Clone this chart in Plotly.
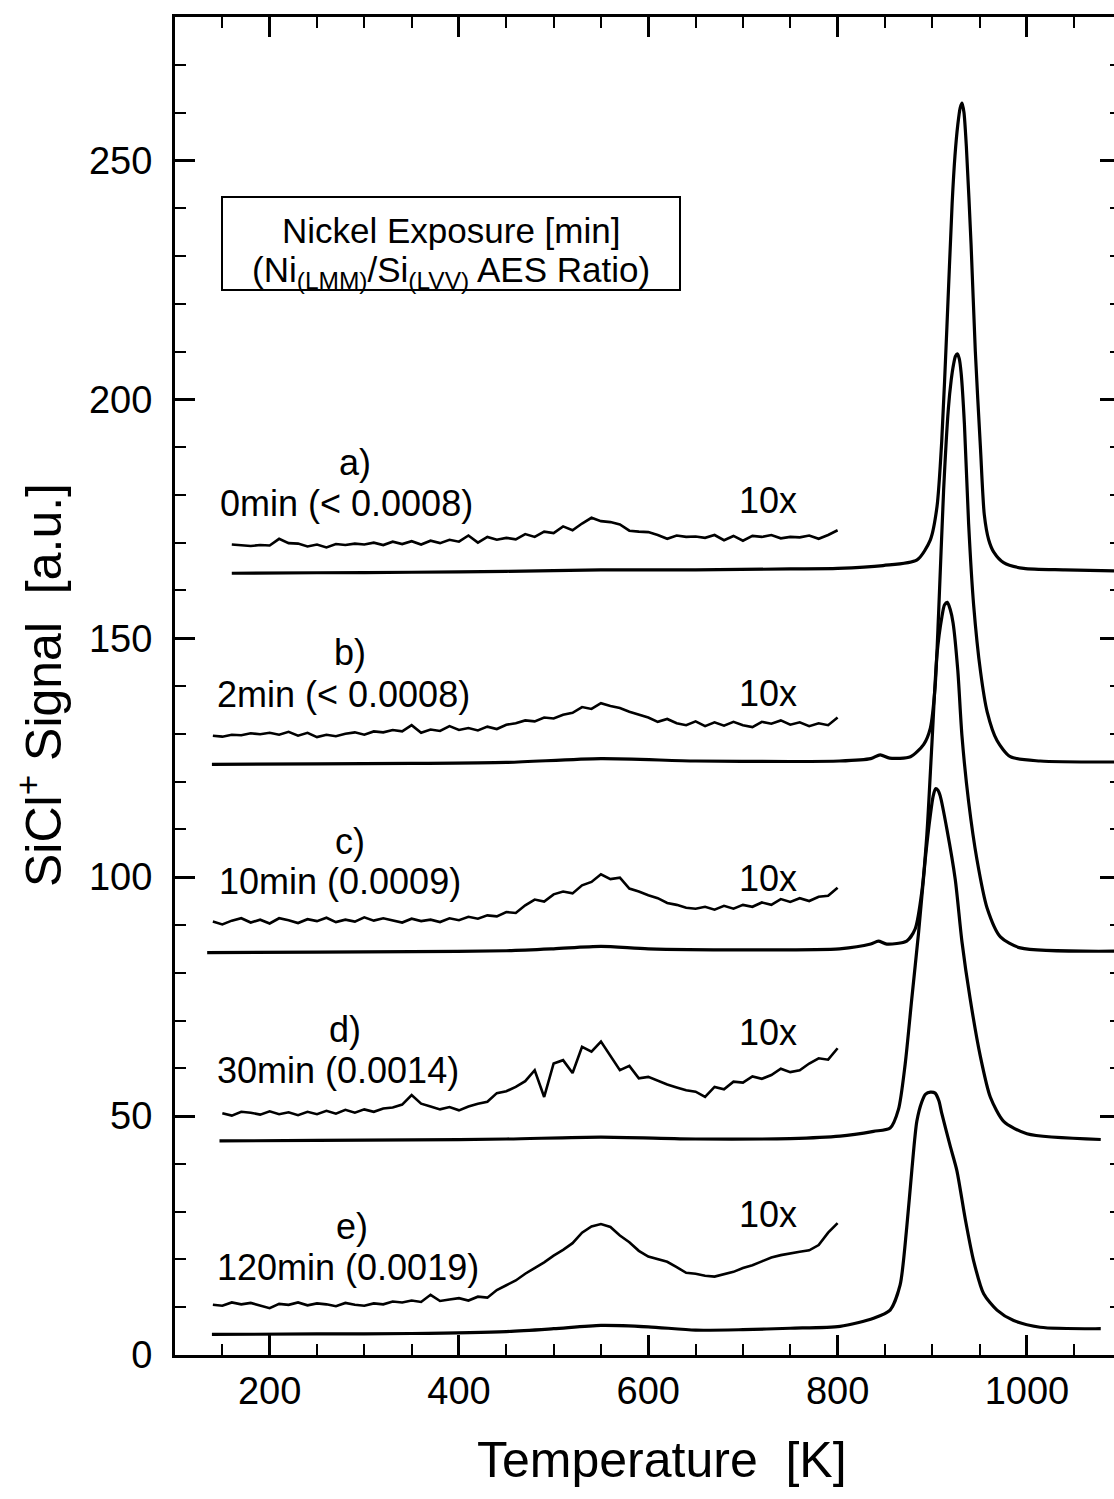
import plotly.graph_objects as go

# ---------------- data ----------------
# main (1x) traces: temperature [K] and SiCl+ signal
mainA_T = [160, 250, 350, 450, 550, 650, 750, 800, 848, 884, 898, 905, 910, 915.5, 921, 924, 927, 929.5, 931.5, 933.5, 936, 941, 945.5, 951, 955, 959.6, 965, 975.4, 996.6, 1040, 1092]
mainA_S = [163.6, 163.7, 163.8, 164.0, 164.3, 164.3, 164.5, 164.6, 165.2, 166.4, 170.6, 177.5, 191.2, 215.2, 241, 251, 257.5, 261, 262, 260, 253, 232.4, 210, 189.5, 175.8, 170.6, 168, 165.8, 164.6, 164.3, 164.1]

mainB_T = [139, 250, 350, 450, 550, 650, 750, 802, 835, 845, 855, 877, 891, 898, 903, 906.7, 912, 917, 920, 922.5, 924.5, 926.5, 928.5, 930.5, 934, 938.4, 943.7, 951, 958, 968.4, 982.5, 1014, 1092]
mainB_S = [123.6, 123.7, 123.8, 124.0, 124.8, 124.3, 124.2, 124.3, 124.8, 125.6, 124.9, 125.2, 127.8, 131.2, 139.8, 155.2, 181, 198, 204, 207.3, 209, 209.5, 208.5, 205.5, 194.7, 174, 157, 143, 134.6, 128.6, 125.2, 124.3, 124.1]

mainC_T = [134, 250, 350, 450, 500, 550, 600, 700, 802, 835, 843, 852, 873, 882, 889, 894.3, 899.6, 905, 910.2, 913, 916, 919, 922, 927, 931.4, 938.4, 947.2, 958, 972, 993, 1092]
mainC_S = [84.2, 84.3, 84.4, 84.6, 85.0, 85.5, 85.0, 84.8, 85.0, 86.0, 86.6, 86.0, 86.6, 89.2, 97, 108.9, 127.8, 146.6, 154.5, 157, 157.5, 156, 153.2, 143.2, 129.5, 115.8, 103.7, 93.5, 87.5, 85.2, 84.5]

mainD_T = [147, 250, 350, 450, 550, 650, 750, 802.6, 838, 855.5, 864.3, 871.4, 878.4, 885.5, 892.6, 898, 901, 903.5, 906, 908.4, 915.5, 924.3, 931.3, 940, 950.7, 961.3, 975.4, 1000, 1078]
mainD_S = [44.8, 44.9, 45.0, 45.2, 45.6, 45.2, 45.3, 45.8, 46.8, 47.5, 51.4, 60.9, 74.6, 88.3, 103.7, 113, 117, 118.5, 118.2, 117, 110, 99.5, 86.6, 74.6, 62.6, 54, 48.9, 46.3, 45.1]

mainE_T = [139, 250, 350, 450, 500, 550, 600, 650, 700, 750, 802.6, 838, 855.5, 866, 873, 878.4, 883.7, 889, 893, 898, 903, 907, 910, 919, 926, 935, 943.7, 954.3, 968.4, 986, 1014, 1078]
mainE_S = [4.3, 4.4, 4.5, 4.9, 5.5, 6.2, 5.9, 5.2, 5.3, 5.6, 6.0, 7.7, 9.4, 14.6, 26.6, 38.6, 48.9, 53.0, 54.6, 55.0, 54.8, 53.2, 50.6, 43.7, 38.6, 28.3, 19.7, 12.8, 9.4, 7.2, 5.8, 5.5]

# 10x magnified low-temperature traces, sampled every 10 K (140 ... 800 K)
T10 = [140, 150, 160, 170, 180, 190, 200, 210, 220, 230, 240, 250, 260, 270, 280, 290,
       300, 310, 320, 330, 340, 350, 360, 370, 380, 390, 400, 410, 420, 430, 440, 450,
       460, 470, 480, 490, 500, 510, 520, 530, 540, 550, 560, 570, 580, 590, 600, 610,
       620, 630, 640, 650, 660, 670, 680, 690, 700, 710, 720, 730, 740, 750, 760, 770,
       780, 790, 800]

x10A = [169.6, 169.4, 169.3, 169.5, 169.4, 170.8, 169.9, 169.8, 169.2, 169.6, 169.0, 169.7,
        169.5, 169.8, 169.6, 170.0, 169.5, 170.2, 169.7, 170.3, 169.6, 170.4, 169.9, 170.6,
        170.2, 171.5, 170.0, 171.2, 170.6, 171.0, 170.7, 171.8, 171.2, 172.3, 172.0, 173.4,
        172.6, 174.0, 175.2, 174.5, 174.3, 173.8, 172.5, 172.3, 172.2, 171.6, 170.8, 171.5,
        171.2, 171.3, 171.0, 171.6, 170.5, 171.4, 170.4, 171.4, 171.2, 171.6, 170.9, 171.2,
        171.1, 171.5, 170.8, 171.6, 172.6]  # 160 ... 800 K

x10B = [129.6, 129.4, 129.8, 129.7, 130.1, 129.9, 130.2, 129.8, 130.4, 129.6, 130.2, 129.3,
        129.8, 129.5, 130.0, 130.3, 129.8, 130.5, 130.3, 130.8, 130.5, 131.8, 130.2, 130.9,
        130.6, 131.6, 130.8, 131.2, 130.7, 131.5, 131.0, 131.9, 132.2, 132.8, 132.6, 133.4,
        133.2, 134.0, 134.4, 135.6, 135.2, 136.4, 135.8, 135.4, 134.6, 134.0, 133.4, 132.5,
        133.1, 132.2, 131.8, 132.6, 131.6, 132.4, 131.7, 132.5, 131.8, 131.4, 132.5, 132.1,
        132.8, 131.9, 132.4, 131.6, 132.2, 131.8, 133.4]  # 140 ... 800 K

x10C = [90.7, 90.1, 90.9, 91.4, 90.5, 91.1, 90.3, 91.4, 91.0, 90.4, 91.2, 90.8, 91.5, 90.6,
        91.1, 90.7, 91.6, 90.9, 91.4, 91.0, 90.5, 91.3, 90.8, 91.1, 90.6, 91.4, 91.0, 91.7,
        91.3, 92.0, 91.8, 92.7, 92.5, 94.1, 95.3, 94.9, 96.4, 97.0, 96.6, 98.3, 99.0, 100.6,
        99.6, 99.9, 97.6, 97.0, 96.2, 95.6, 94.6, 94.2, 93.6, 93.4, 93.8, 93.2, 94.0, 93.4,
        94.2, 93.8, 94.7, 94.2, 95.4, 94.8, 95.6, 95.0, 95.9, 96.1, 97.8]  # 140 ... 800 K

x10D = [50.6, 50.1, 50.9, 50.7, 50.3, 51.0, 50.4, 50.8, 50.2, 50.9, 50.4, 51.1, 50.5, 51.3,
        50.7, 51.4, 50.9, 51.6, 51.8, 52.4, 54.4, 52.6, 52.0, 51.4, 51.9, 51.2, 52.0, 52.6,
        53.0, 54.8, 55.2, 56.1, 57.3, 59.6, 54.0, 61.0, 61.7, 59.0, 64.5, 63.5, 65.6, 62.5,
        59.6, 60.5, 57.9, 58.2, 57.4, 56.6, 56.0, 55.4, 55.1, 54.0, 56.1, 55.6, 57.2, 57.0,
        58.3, 57.8, 58.6, 59.9, 59.2, 59.6, 61.0, 62.1, 61.8, 64.2]  # 150 ... 800 K

x10E = [10.5, 10.3, 11.0, 10.6, 10.9, 10.4, 9.8, 10.7, 10.5, 11.0, 10.4, 10.8, 10.6, 10.2,
        10.9, 10.5, 10.3, 10.8, 10.6, 11.2, 11.0, 11.4, 11.1, 12.6, 11.3, 11.6, 11.9, 11.4,
        12.2, 12.0, 13.6, 14.6, 15.6, 17.0, 18.2, 19.4, 20.8, 22.0, 23.4, 25.6, 26.9, 27.4,
        26.8, 25.0, 23.6, 21.8, 20.6, 20.1, 19.5, 18.4, 17.2, 17.0, 16.6, 16.4, 16.9, 17.4,
        18.2, 18.8, 19.6, 20.4, 20.9, 21.3, 21.6, 21.9, 23.0, 25.6, 27.6]  # 140 ... 800 K

letters = ["a)", "b)", "c)", "d)", "e)"]
exposures = ["0min (< 0.0008)", "2min (< 0.0008)", "10min (0.0009)", "30min (0.0014)", "120min (0.0019)"]
mag_label = "10x"

x_ticks = [200, 400, 600, 800, 1000]
y_ticks = [0, 50, 100, 150, 200, 250]

# ---------------- figure ----------------
FONT = "Liberation Sans, Arial, Helvetica, sans-serif"
BLACK = "#000000"
W, H = 1114, 1499
ML, MR, MT, MB = 175, 0, 17, 144

fig = go.Figure()

for T, S in [(mainA_T, mainA_S), (mainB_T, mainB_S), (mainC_T, mainC_S),
             (mainD_T, mainD_S), (mainE_T, mainE_S)]:
    fig.add_trace(go.Scatter(x=T, y=S, mode="lines",
                             line=dict(color=BLACK, width=3.2, shape="spline", smoothing=0.7),
                             showlegend=False, hoverinfo="skip"))

for Y in [x10A, x10B, x10C, x10D, x10E]:
    fig.add_trace(go.Scatter(x=T10[-len(Y):], y=Y, mode="lines", line=dict(color=BLACK, width=2.6),
                             showlegend=False, hoverinfo="skip"))

# dummy trace for right-hand tick axis
fig.add_trace(go.Scatter(x=[100], y=[0], yaxis="y2", mode="markers", marker=dict(opacity=0),
                         showlegend=False, hoverinfo="skip"))

PW = W - ML - MR
PH = H - MT - MB


def px(xp):
    return (xp - ML) / PW


def py(yp):
    return (H - MB - yp) / PH


ann = []
letter_pos = [(355, 462), (350, 652), (350, 841), (345, 1029), (352, 1226)]
expo_pos = [(218, 503), (215, 694), (217, 881), (215, 1070), (215, 1267)]
mag_pos = [(768, 500), (768, 693), (768, 878), (768, 1032), (768, 1214)]
for i in range(5):
    ann.append(dict(x=px(letter_pos[i][0]), y=py(letter_pos[i][1]), text=letters[i],
                    xanchor="center", yanchor="middle", font=dict(size=36)))
    ann.append(dict(x=px(expo_pos[i][0]), y=py(expo_pos[i][1]), text=exposures[i],
                    xanchor="left", yanchor="middle", font=dict(size=36)))
    ann.append(dict(x=px(mag_pos[i][0]), y=py(mag_pos[i][1]), text=mag_label,
                    xanchor="center", yanchor="middle", font=dict(size=36)))

# legend box text
ann.append(dict(x=px(451), y=py(230), text="Nickel Exposure [min]", xanchor="center",
                yanchor="middle", font=dict(size=35)))
ann.append(dict(x=px(451), y=py(272), text="(Ni<sub>(LMM)</sub>/Si<sub>(LVV)</sub> AES Ratio)",
                xanchor="center", yanchor="middle", font=dict(size=35)))

# axis titles
ann.append(dict(x=px(662), y=py(1460), text="Temperature\u00a0\u00a0[K]", xanchor="center",
                yanchor="middle", font=dict(size=50)))
ann.append(dict(x=px(40), y=py(685), text="SiCl<sup>+</sup> Signal\u00a0\u00a0[a.u.]", xanchor="center",
                yanchor="middle", textangle=-90, font=dict(size=50)))

for a in ann:
    a.update(xref="paper", yref="paper", showarrow=False)
    a["font"].update(family=FONT, color=BLACK)

fig.add_shape(type="rect", xref="paper", yref="paper", x0=px(222), x1=px(680), y0=py(290), y1=py(197),
              line=dict(color=BLACK, width=2), fillcolor="rgba(0,0,0,0)")

fig.update_layout(
    width=W, height=H,
    margin=dict(l=ML, r=MR, t=MT, b=MB),
    paper_bgcolor="white", plot_bgcolor="white",
    font=dict(family=FONT, color=BLACK, size=38),
    annotations=ann,
    xaxis=dict(range=[100, 1092], tickmode="array", tickvals=x_ticks, ticks="inside", ticklen=20,
               tickwidth=2.5, tickcolor=BLACK, showline=True, linecolor=BLACK, linewidth=3,
               mirror="ticks", showgrid=False, zeroline=False, ticklabelstandoff=0,
               tickfont=dict(size=38, family=FONT, color=BLACK),
               minor=dict(dtick=50, tick0=0, ticks="inside", ticklen=11, tickwidth=2, tickcolor=BLACK)),
    yaxis=dict(range=[0, 280], tickmode="array", tickvals=y_ticks, ticks="inside", ticklen=20,
               tickwidth=2.5, tickcolor=BLACK, showline=True, linecolor=BLACK, linewidth=3,
               mirror=False, showgrid=False, zeroline=False, ticklabelstandoff=12,
               tickfont=dict(size=38, family=FONT, color=BLACK),
               minor=dict(dtick=10, tick0=0, ticks="inside", ticklen=11, tickwidth=2, tickcolor=BLACK)),
    yaxis2=dict(range=[0, 280], overlaying="y", side="right", tickmode="array", tickvals=y_ticks,
                ticks="inside", ticklen=14, tickwidth=2.5, tickcolor=BLACK, showline=False,
                showgrid=False, zeroline=False, showticklabels=False,
                minor=dict(dtick=10, tick0=0, ticks="inside", ticklen=4, tickwidth=2, tickcolor=BLACK)),
)

fig.write_html("out.html")
